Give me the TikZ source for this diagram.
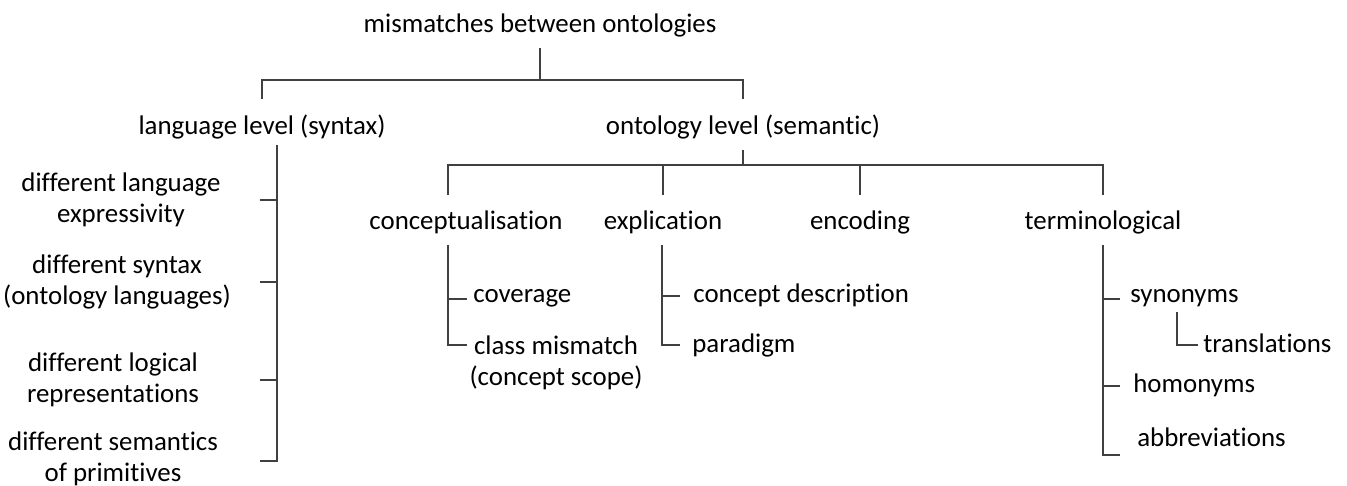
\documentclass[tikz,border=0pt]{standalone}
\usepackage{fontspec}
\setmainfont{Carlito}[Ligatures={NoCommon,NoContextual}]
\usetikzlibrary{positioning}
\definecolor{linegray}{HTML}{404040}
\tikzset{
  lbl/.style={inner sep=0pt, anchor=base},
  lblc/.style={inner sep=0pt, anchor=north, align=center},
  branch/.style={draw=linegray, line width=1.1pt},
}

\begin{document}
\begin{tikzpicture}[x=0.02cm, y=-0.02cm, font=\fontsize{15.3}{18.2}\selectfont]
\useasboundingbox (0,0) rectangle (1347,486);

% top levels
\node[lbl] (root) at (540,33) {mismatches between ontologies};
\node[lbl] (lang) at (262,135) {language level (syntax)};
\node[lbl] (onto) at (743,135) {ontology level (semantic)};
\coordinate (j0) at (540,80);
\draw[branch] ([yshift=-0.2cm]root.south) -- (j0);
\draw[branch] ([yshift=0.32cm]lang.north) |- (j0) -| ([yshift=0.32cm]onto.north);

% language level
\node[lblc] (d1) at (121,172) {different language\\expressivity};
\node[lblc] (d2) at (117,254) {different syntax\\(ontology languages)};
\node[lblc] (d3) at (113,352) {different logical\\representations};
\node[lblc] (d4) at (113,431) {different semantics\\of primitives};
\coordinate (lr1) at (277,145);
\coordinate (lr2) at (260,461);
\draw[branch] (lr1) |- (lr2);
\foreach \n in {d1,d2,d3}
  \draw[branch] (lr2 |- \n.east) -- (lr1 |- \n.east);

% ontology level
\node[lbl] (conc) at (466,230) {conceptualisation};
\node[lbl] (expl) at (663,230) {explication};
\node[lbl] (enc) at (860,230) {encoding};
\node[lbl] (term) at (1103,230) {terminological};
\coordinate (j1) at (743,165);
\draw[branch] ([yshift=-0.2cm]onto.south) -- (j1);
\draw[branch] ([xshift=-0.36cm,yshift=0.32cm]conc.north) |- (j1) -| ([yshift=0.32cm]term.north);
\foreach \n in {expl,enc}
  \draw[branch] ([yshift=0.32cm]\n.north) -- (\n.north |- j1);

% conceptualisation
\node[lbl, anchor=base west] (cov) at (473,303) {coverage};
\node[lblc] (cls) at (556,335) {class mismatch\\(concept scope)};
\coordinate (cr1) at (448,245);
\coordinate (cr2) at (467,345);
\draw[branch] (cr1) |- (cr2);
\draw[branch] (cr1 |- cov.west) -- (cr2 |- cov.west);

% explication
\node[lbl, anchor=base west] (cdesc) at (693,303) {concept description};
\node[lbl, anchor=base west] (para) at (692,353) {paradigm};
\coordinate (er1) at (662,245);
\coordinate (er2) at (680,345);
\draw[branch] (er1) |- (er2);
\draw[branch] (er1 |- cdesc.west) -- (er2 |- cdesc.west);

% terminological
\node[lbl, anchor=base west] (syn) at (1130,303) {synonyms};
\node[lbl, anchor=base west] (trans) at (1203,353) {translations};
\node[lbl, anchor=base west] (hom) at (1133,393) {homonyms};
\node[lbl, anchor=base west] (abbr) at (1137,447) {abbreviations};
\coordinate (tr1) at (1103,245);
\coordinate (tr2) at (1120,455);
\draw[branch] (tr1) |- (tr2);
\foreach \n in {syn,hom}
  \draw[branch] (tr1 |- \n.west) -- (tr2 |- \n.west);
\coordinate (sr1) at (1177,312);
\coordinate (sr2) at (1198,345);
\draw[branch] (sr1) |- (sr2);
\end{tikzpicture}
\end{document}
